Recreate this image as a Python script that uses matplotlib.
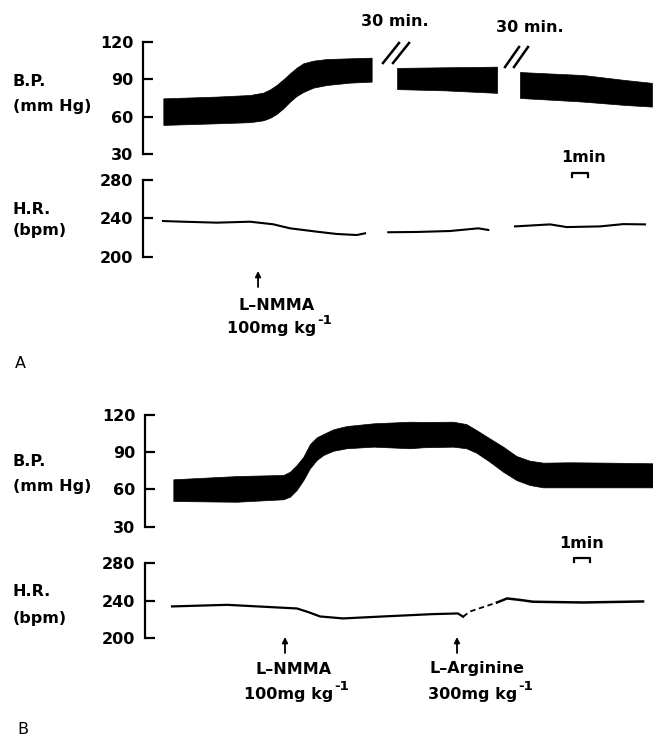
import matplotlib
matplotlib.use("Agg")
import matplotlib.pyplot as plt
from matplotlib.transforms import blended_transform_factory as btf

plt.rcParams['font.family'] = ['DejaVu Sans']

# ---------------- data (time in minutes, BP in mmHg, HR in bpm) ----------------
# Panel A: blood pressure band (three recording segments separated by 30-min breaks)
a_bp1_t    = [1.27, 4.60, 6.69, 7.52, 7.94, 8.35, 8.77, 9.19, 9.60, 10.02, 10.65, 11.48, 12.94, 14.29]
a_bp1_low  = [53.3, 54.6, 55.5, 57.0, 59.0, 62.1, 66.6, 72.0, 76.5, 79.7, 83.2, 85.3, 87.2, 88.0]
a_bp1_high = [74.6, 76.0, 77.3, 79.2, 81.8, 85.3, 89.8, 94.7, 99.2, 102.7, 104.8, 106.1, 106.7, 107.2]
a_bp2_t    = [15.88, 18.88, 22.13]
a_bp2_low  = [82.0, 81.0, 79.0]
a_bp2_high = [99.0, 99.5, 100.0]
a_bp3_t    = [23.56, 25.5, 27.5, 30.13, 31.81]
a_bp3_low  = [74.9, 73.5, 72.0, 69.3, 68.0]
a_bp3_high = [95.7, 94.5, 93.3, 89.3, 87.0]
# Panel A: heart rate
a_hr1_t = [1.25, 2.52, 4.61, 6.69, 8.14, 9.19, 10.86, 12.11, 13.36, 13.88]
a_hr1   = [237.2, 236.5, 235.5, 236.5, 233.8, 229.6, 226.1, 223.7, 222.6, 224.4]
a_hr2_t = [15.33, 17.11, 19.19, 20.96, 21.58]
a_hr2   = [225.5, 225.8, 226.8, 229.6, 227.9]
a_hr3_t = [23.25, 25.44, 26.48, 28.56, 30.02, 31.38]
a_hr3   = [231.6, 233.7, 230.9, 231.6, 234.0, 233.7]
a_lnmma_t = 7.19

# Panel B: blood pressure band
b_bp_t    = [1.77, 5.73, 8.65, 9.06, 9.48, 9.90, 10.31, 10.73, 11.15, 11.77, 12.60, 14.27, 16.56,
             17.38, 19.25, 20.08, 20.71, 21.54, 22.38, 23.21, 24.04, 24.88, 26.54, 29.04, 31.75]
b_bp_low  = [50.7, 50.1, 52.1, 54.2, 59.6, 67.6, 77.1, 83.7, 87.8, 91.2, 93.2, 94.5, 93.2,
             94.0, 94.5, 93.2, 89.6, 82.4, 74.3, 67.6, 63.6, 61.7, 61.7, 61.7, 61.7]
b_bp_high = [68.2, 70.8, 71.7, 74.3, 79.7, 86.4, 96.6, 102.0, 104.7, 108.5, 111.1, 113.3, 114.6,
             114.4, 114.6, 112.7, 107.9, 101.2, 94.5, 87.0, 83.2, 81.6, 81.9, 81.6, 81.1]
# Panel B: heart rate (solid, dashed gap, solid)
b_hr1_t = [1.69, 5.13, 9.5, 10.2, 10.94, 12.38, 14.88, 18.0, 19.56, 19.88]
b_hr1   = [234.0, 235.7, 231.8, 228.0, 223.3, 221.2, 223.3, 225.8, 226.5, 223.0]
b_hrd_t = [19.88, 20.31, 22.0]
b_hrd   = [223.0, 228.6, 238.2]
b_hr2_t = [22.0, 22.63, 23.4, 24.25, 27.38, 31.13]
b_hr2   = [238.2, 242.5, 241.0, 239.0, 238.2, 239.3]
b_lnmma_t = 8.75
b_larg_t = 19.5

bp_ticks = [30, 60, 90, 120]
hr_ticks = [200, 240, 280]

# ---------------- layout helpers ----------------
W, H = 653, 738
PX_PER_MIN = 16.0
fig = plt.figure(figsize=(W / 100, H / 100), dpi=100)
FS = 11.5


def fx(x):
    return x / W


def fy(y):
    return 1 - y / H


def make_axes(spine_x, y_top, y_bot, ylim, ticks):
    ax = fig.add_axes([fx(spine_x), fy(y_bot), (W - spine_x) / W, (y_bot - y_top) / H])
    ax.set_xlim(0, (W - spine_x) / PX_PER_MIN)
    ax.set_ylim(*ylim)
    for s in ['top', 'right', 'bottom']:
        ax.spines[s].set_visible(False)
    ax.spines['left'].set_linewidth(1.6)
    ax.set_xticks([])
    ax.set_yticks(ticks)
    ax.tick_params(axis='y', direction='in', length=7, width=1.6, pad=7, labelsize=FS)
    for lab in ax.get_yticklabels():
        lab.set_fontweight('bold')
    ax.patch.set_visible(False)
    return ax


def ftext(x, y, s, **kw):
    kw.setdefault('fontsize', FS)
    kw.setdefault('fontweight', 'bold')
    kw.setdefault('va', 'center')
    fig.text(fx(x), fy(y), s, **kw)


def dose(x_end, y, main):
    ftext(x_end, y, main, ha='right')
    ftext(x_end + 1, y - 8, '-1', ha='left', fontsize=9.5)


def arrow(ax, t, y_tip, y_tail):
    ax.annotate('', xy=(t, fy(y_tip)), xytext=(t, fy(y_tail)),
                xycoords=('data', 'figure fraction'), textcoords=('data', 'figure fraction'),
                arrowprops=dict(arrowstyle='-|>', color='black', lw=1.3,
                                mutation_scale=8, shrinkA=0, shrinkB=0),
                annotation_clip=False)


def min_bracket(ax, t0, y_top, y_leg):
    tr = btf(ax.transData, fig.transFigure)
    ax.plot([t0, t0, t0 + 1, t0 + 1], [fy(y_leg), fy(y_top), fy(y_top), fy(y_leg)],
            color='black', lw=1.6, transform=tr, clip_on=False)


def break_mark(x0, y0, x1, y1, dx):
    for off in (0, dx):
        fig.add_artist(plt.Line2D([fx(x0 + off), fx(x1 + off)], [fy(y0), fy(y1)],
                                  color='black', lw=1.8))


# ---------------- Panel A ----------------
axA_bp = make_axes(143, 41.7, 154, (30, 120), bp_ticks)
axA_hr = make_axes(143, 180, 256.7, (200, 280), hr_ticks)

for t, lo, hi in [(a_bp1_t, a_bp1_low, a_bp1_high),
                  (a_bp2_t, a_bp2_low, a_bp2_high),
                  (a_bp3_t, a_bp3_low, a_bp3_high)]:
    axA_bp.fill_between(t, lo, hi, color='black', lw=0.5, edgecolor='black')

for t, v in [(a_hr1_t, a_hr1), (a_hr2_t, a_hr2), (a_hr3_t, a_hr3)]:
    axA_hr.plot(t, v, color='black', lw=1.5)

ftext(13, 82, 'B.P.')
ftext(13, 107, '(mm Hg)')
ftext(13, 209, 'H.R.')
ftext(13, 230, '(bpm)')

ftext(395, 22, '30 min.', ha='center')
ftext(530, 27, '30 min.', ha='center')
break_mark(383, 63, 399, 43, 10)
break_mark(505, 67, 519, 47, 9)

ftext(584, 157, '1min', ha='center')
min_bracket(axA_bp, (572 - 143) / PX_PER_MIN, 173, 177)

arrow(axA_hr, a_lnmma_t, 271, 287)
ftext(277, 305, 'L\u2013NMMA', ha='center')
dose(316, 328, '100mg kg')
ftext(15, 363, 'A', fontweight='normal')

# ---------------- Panel B ----------------
axB_bp = make_axes(145, 415, 526.7, (30, 120), bp_ticks)
axB_hr = make_axes(145, 563.3, 638.3, (200, 280), hr_ticks)

axB_bp.fill_between(b_bp_t, b_bp_low, b_bp_high, color='black', lw=0.5, edgecolor='black')
axB_hr.plot(b_hr1_t, b_hr1, color='black', lw=1.6)
axB_hr.plot(b_hrd_t, b_hrd, color='black', lw=1.3, ls=(0, (3, 2)))
axB_hr.plot(b_hr2_t, b_hr2, color='black', lw=1.8)

ftext(13, 461, 'B.P.')
ftext(13, 487, '(mm Hg)')
ftext(13, 592, 'H.R.')
ftext(13, 618, '(bpm)')

ftext(582, 543, '1min', ha='center')
min_bracket(axB_bp, (574 - 145) / PX_PER_MIN, 558, 562)

arrow(axB_hr, b_lnmma_t, 637, 653)
arrow(axB_hr, b_larg_t, 637, 653)
ftext(294, 669, 'L\u2013NMMA', ha='center')
dose(333, 694, '100mg kg')
ftext(477, 669, 'L\u2013Arginine', ha='center')
dose(517, 694, '300mg kg')
ftext(17, 730, 'B', fontweight='normal')

fig.savefig('out.png', dpi=100)
